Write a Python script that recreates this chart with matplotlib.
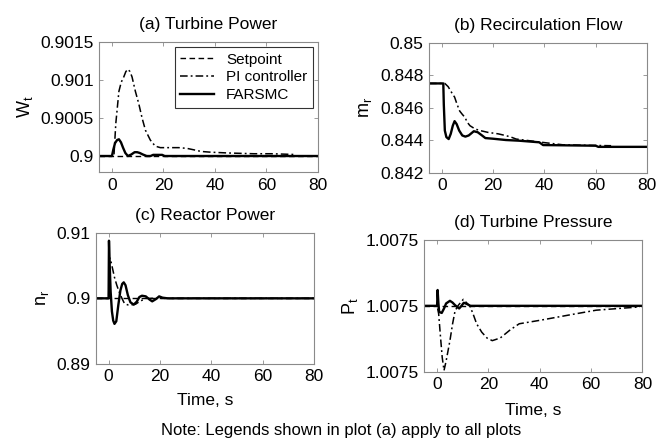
import matplotlib
matplotlib.use("Agg")
import matplotlib.pyplot as plt
from matplotlib.ticker import FuncFormatter, FixedLocator, FixedFormatter

plt.rcParams['font.family'] = ['Liberation Sans', 'DejaVu Sans']

font_size = 12.5

# (a) turbine power
t_a_set = [-5, 80]
w_set = [0.9, 0.9]
t_a_pi = [-5, 0, 0.8, 1.5, 2.7, 3.6, 4.6, 5.4, 6.2, 7.0, 7.8, 9.1, 10.4, 11.7, 13.0, 14.9,
          16.8, 18.8, 22, 26, 29.2, 32, 34.6, 38.5, 45, 55, 62, 71]
w_pi = [0.9, 0.9, 0.90002, 0.90043, 0.90085, 0.90097, 0.90104, 0.90111, 0.90114, 0.90111,
        0.90104, 0.90085, 0.90069, 0.9005, 0.90034, 0.90021, 0.90013, 0.90011, 0.90011,
        0.90011, 0.9001, 0.90008, 0.90006, 0.90005, 0.90004, 0.90003, 0.90003, 0.90002]
t_a_far = [-5, 0, 0.5, 1.2, 2.0, 2.7, 3.5, 4.3, 5.2, 6.2, 7.5, 8.8, 9.8, 10.8, 12, 13.5,
           15, 16, 19.5, 20.5, 80]
w_far = [0.9, 0.9, 0.90008, 0.90017, 0.90021, 0.90022, 0.90018, 0.90011, 0.90004, 0.9,
         0.90002, 0.90005, 0.90005, 0.90004, 0.90002, 0.9, 0.9, 0.900015, 0.900015, 0.9, 0.9]

# (b) recirculation flow
t_b_pi = [-5, 1.2, 2.5, 4, 5, 6, 7, 8, 9, 10, 11, 13, 15, 18, 22, 25, 27, 29, 33, 39, 47,
          55, 66]
m_pi = [0.8475, 0.8475, 0.8473, 0.8469, 0.84666, 0.8462, 0.8458, 0.8456, 0.84542, 0.8451,
        0.8449, 0.8447, 0.8446, 0.84449, 0.8444, 0.84429, 0.8442, 0.84408, 0.844, 0.84388,
        0.84373, 0.8437, 0.84367]
t_b_far = [-5, 0.6, 0.8, 1.2, 1.8, 2.7, 3.5, 4.3, 5.0, 5.8, 6.8, 8, 9.2, 10.5, 12.5, 14,
           15.7, 17, 20, 25, 30, 38, 39.5, 45, 60, 61, 70, 80]
m_far = [0.8475, 0.8475, 0.8462, 0.8446, 0.8442, 0.84408, 0.8444, 0.8449, 0.84518, 0.845,
         0.8446, 0.8443, 0.84423, 0.8443, 0.84456, 0.8445, 0.8443, 0.84414, 0.8441, 0.84402,
         0.84398, 0.84388, 0.84371, 0.8437, 0.84367, 0.8436, 0.8436, 0.8436]

# (c) reactor power
t_c_set = [-5, 80]
n_set = [0.9, 0.9]
t_c_pi = [-5, 0, 0.4, 1.0, 2.3, 3.2, 4.2, 5.2, 6.2, 7.5, 8.8, 10.5, 12, 13.5, 14.6, 80]
n_pi = [0.9, 0.9, 0.9062, 0.9055, 0.9032, 0.902, 0.9009, 0.9, 0.8992, 0.899, 0.899,
        0.8991, 0.8995, 0.8998, 0.9, 0.9]
t_c_far = [-5, 0, 0.15, 0.35, 0.8, 1.3, 1.8, 2.3, 3.0, 3.8, 4.6, 5.3, 5.9, 6.6, 7.5, 8.5,
           9.8, 11, 12, 13, 14.5, 16, 17, 18.5, 19.7, 21, 23, 80]
n_far = [0.9, 0.9, 0.9088, 0.906, 0.901, 0.898, 0.8966, 0.8961, 0.8965, 0.899, 0.9012,
         0.9022, 0.90244, 0.902, 0.9005, 0.8994, 0.89904, 0.8995, 0.9002, 0.9004, 0.9003,
         0.8998, 0.89954, 0.8999, 0.9003, 0.9001, 0.9, 0.9]

# (d) turbine pressure
t_d_set = [-5, 80]
p_set = [1.0075, 1.0075]
t_d_pi = [-5, 0, 0.6, 1.3, 2.0, 2.7, 3.5, 5.0, 6.0, 7.0, 8.3, 10.2, 12.8, 14, 15.4, 17.4,
          19.5, 21.5, 24.6, 28.5, 32, 40, 53, 62, 79]
p_pi = [1.0075, 1.0075, 1.0074941, 1.007477, 1.0074608, 1.007451, 1.007458, 1.0074736,
        1.007486, 1.0074962, 1.0075005, 1.0075049, 1.0074997, 1.007494, 1.0074864, 1.00748,
        1.0074755, 1.0074736, 1.0074756, 1.0074818, 1.0074864, 1.007489, 1.0074936,
        1.0074967, 1.0074992]
t_d_far = [-5, 0, 0.2, 0.5, 0.8, 1.8, 2.7, 3.5, 5, 6, 7, 8.6, 9.5, 10.4, 11.5, 13, 80]
p_far = [1.0075, 1.0075, 1.007512, 1.007502, 1.0074954, 1.0074946, 1.007498, 1.0075018,
         1.0075038, 1.0075025, 1.0075005, 1.007498, 1.0075, 1.0075023, 1.0075015, 1.0075,
         1.0075]

xticks = [0, 20, 40, 60, 80]
p_ticks = [1.00745, 1.0075, 1.00755]
p_ticklabels = ['1.0075', '1.0075', '1.0075']

dash_set = dict(color='black', lw=1.0, linestyle=(0, (4, 2.5)))
dash_pi = dict(color='black', lw=1.1, linestyle=(0, (5, 2, 1.2, 2)))
solid_far = dict(color='black', lw=1.7)


def style_axes(ax, title, ylabel, ylim, yticks):
	ax.set_xlim(-5, 80)
	ax.set_ylim(*ylim)
	ax.set_xticks(xticks)
	ax.set_yticks(yticks)
	ax.yaxis.set_major_formatter(FuncFormatter(lambda v, pos: '%g' % round(v, 6)))
	ax.tick_params(direction='in', top=True, right=True, length=3, width=0.6,
				   color='#8a8a8a', labelsize=font_size, pad=4)
	for s in ax.spines.values():
		s.set_color('#8a8a8a')
		s.set_linewidth(0.8)
	ax.set_title(title, fontsize=font_size, pad=9)
	ax.set_ylabel(ylabel, fontsize=font_size + 0.5, labelpad=4)


fig = plt.figure(figsize=(6.65, 4.41), dpi=100)

ax_a = fig.add_axes([0.149, 0.610, 0.329, 0.295])
ax_b = fig.add_axes([0.645, 0.608, 0.328, 0.295])
ax_c = fig.add_axes([0.144, 0.175, 0.328, 0.297])
ax_d = fig.add_axes([0.638, 0.157, 0.328, 0.299])

# (a)
ax_a.plot(t_a_set, w_set, label='Setpoint', **dash_set)
ax_a.plot(t_a_pi, w_pi, label='PI controller', **dash_pi)
ax_a.plot(t_a_far, w_far, label='FARSMC', **solid_far)
style_axes(ax_a, '(a) Turbine Power', r'$\mathregular{W_t}$', (0.89979, 0.9015),
		   [0.9, 0.9005, 0.901, 0.9015])
leg = ax_a.legend(loc='upper right', fontsize=11, frameon=True, fancybox=False,
				  edgecolor='black', handlelength=2.2, handletextpad=0.8,
				  labelspacing=0.25, borderaxespad=0.35, borderpad=0.35)
leg.get_frame().set_linewidth(0.8)

# (b)
ax_b.plot(t_b_pi, m_pi, **dash_pi)
ax_b.plot(t_b_far, m_far, **solid_far)
style_axes(ax_b, '(b) Recirculation Flow', r'$\mathregular{m_r}$', (0.842, 0.85),
		   [0.842, 0.844, 0.846, 0.848, 0.85])

# (c)
ax_c.plot(t_c_set, n_set, **dash_set)
ax_c.plot(t_c_pi, n_pi, **dash_pi)
ax_c.plot(t_c_far, n_far, **solid_far)
style_axes(ax_c, '(c) Reactor Power', r'$\mathregular{n_r}$', (0.89, 0.91),
		   [0.89, 0.9, 0.91])
ax_c.set_xlabel('Time, s', fontsize=font_size, labelpad=6)

# (d)
ax_d.plot(t_d_set, p_set, **dash_set)
ax_d.plot(t_d_pi, p_pi, **dash_pi)
ax_d.plot(t_d_far, p_far, **solid_far)
style_axes(ax_d, '(d) Turbine Pressure', r'$\mathregular{P_t}$', (1.00745, 1.00755), p_ticks)
ax_d.yaxis.set_major_locator(FixedLocator(p_ticks))
ax_d.yaxis.set_major_formatter(FixedFormatter(p_ticklabels))
ax_d.set_xlabel('Time, s', fontsize=font_size, labelpad=8)

fig.text(0.513, 1 - 430 / 441, 'Note: Legends shown in plot (a) apply to all plots',
		 ha='center', va='center', fontsize=12)

fig.savefig('out.png', dpi=100)
